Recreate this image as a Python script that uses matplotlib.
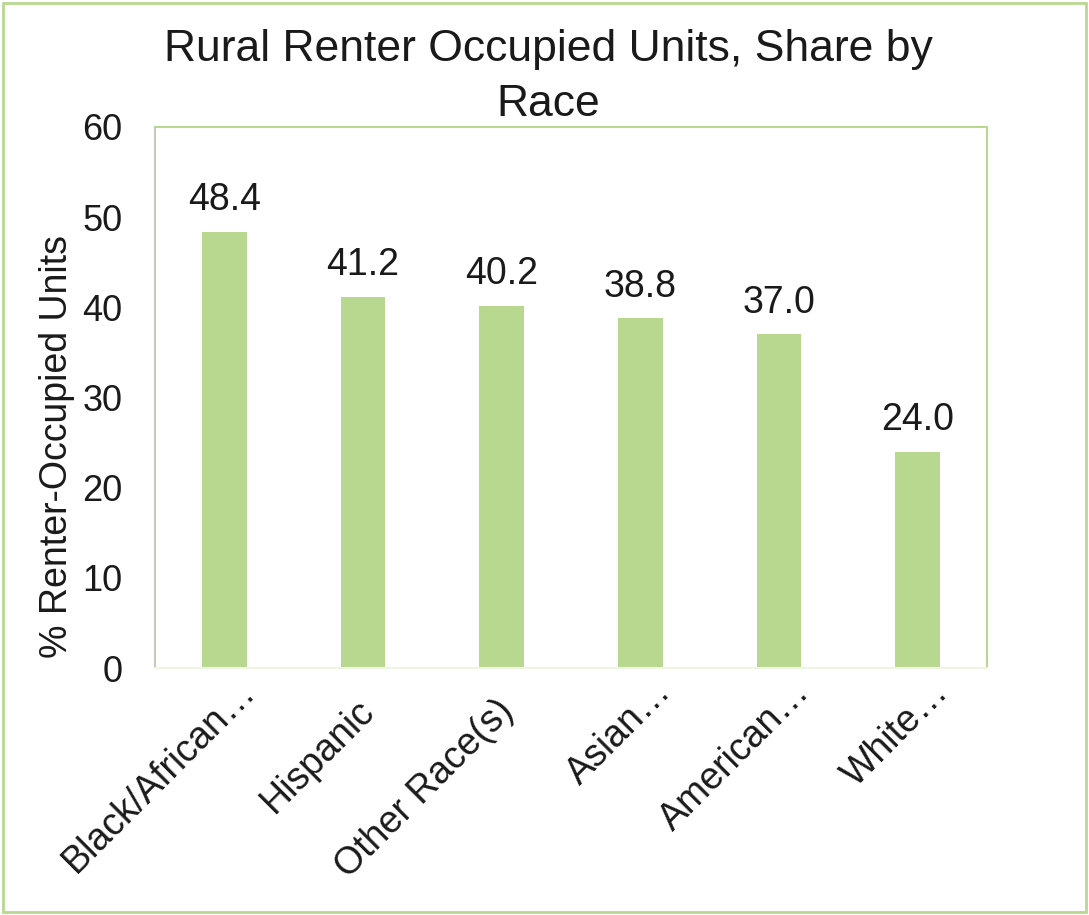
import matplotlib
matplotlib.use("Agg")
import matplotlib.pyplot as plt
from matplotlib.patches import Rectangle
import matplotlib.transforms as mtransforms

categories = ["Black/African…", "Hispanic", "Other Race(s)", "Asian…", "American…", "White…"]
values = [48.4, 41.2, 40.2, 38.8, 37.0, 24.0]
yticks = [0, 10, 20, 30, 40, 50, 60]

plt.rcParams['font.family'] = ['Liberation Sans', 'DejaVu Sans']
W, H = 1089, 915
fig = plt.figure(figsize=(W/100, H/100), dpi=100)
ax = fig.add_axes([155/W, 1-668/H, (987-155)/W, (668-127)/H])

bar_color = '#b9d88f'
text_color = '#1a1a1a'
x = list(range(len(categories)))
ax.bar(x, values, width=0.32, color=bar_color, zorder=2)
ax.set_xlim(-0.5, len(categories)-0.5)
ax.set_ylim(0, 60)
ax.set_yticks(yticks)
ax.set_yticklabels([str(t) for t in yticks], fontsize=26, color=text_color)
ax.tick_params(axis='y', length=0, pad=23.5)
ax.tick_params(axis='x', length=0)
ax.set_xticks(x)
ax.set_xticklabels([])

for xi, v in zip(x, values):
    ax.annotate(f"{v:.1f}", (xi, v), xytext=(0, 9.5), textcoords='offset points',
                ha='center', va='bottom', fontsize=27, color=text_color)

off_trunc = mtransforms.ScaledTranslation(12.5/100, -5.5/100, fig.dpi_scale_trans)
off_full = mtransforms.ScaledTranslation(-6.5/100, -24.5/100, fig.dpi_scale_trans)
for xi, c in zip(x, categories):
    off = off_trunc if c.endswith("…") else off_full
    ax.text(xi, 0, c, transform=ax.get_xaxis_transform() + off,
            rotation=45, rotation_mode='anchor', ha='right', va='top',
            fontsize=27, color=text_color)

ax.spines['left'].set_color('#c5ccbd')
ax.spines['left'].set_linewidth(1.5)
ax.spines['top'].set_color(bar_color)
ax.spines['right'].set_color(bar_color)
ax.spines['top'].set_linewidth(1.5)
ax.spines['right'].set_linewidth(1.5)
ax.spines['bottom'].set_color('#eef5e3')
ax.spines['bottom'].set_linewidth(1.5)

fig.text(548/W, 1-50/H, "Rural Renter Occupied Units, Share by", ha='center', va='center',
         fontsize=32, color=text_color)
fig.text(548/W, 1-104/H, "Race", ha='center', va='center', fontsize=32, color=text_color)

fig.text(57/W, 1-446/H, "% Renter-Occupied Units", rotation=90, ha='center', va='center',
         fontsize=27, color=text_color)

fig.patches.append(Rectangle((3/W, 3/H), (W-6)/W, (H-6)/H, transform=fig.transFigure,
                             fill=False, edgecolor=bar_color, linewidth=2))

fig.savefig("out.png", dpi=100)
